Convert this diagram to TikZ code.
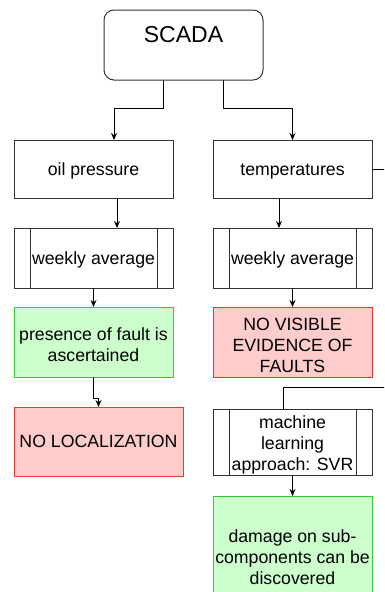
\documentclass[tikz,border=0pt]{standalone}
\usepackage{fontspec}
\setmainfont{Liberation Sans}
\usetikzlibrary{arrows.meta}
\definecolor{gfill}{HTML}{CCFFCC}
\definecolor{gline}{HTML}{33CC33}
\definecolor{rfill}{HTML}{FFCCCC}
\definecolor{rline}{HTML}{EE3333}
\definecolor{bline}{HTML}{333333}
\newcommand{\dstrut}{\rule[-3.75pt]{0pt}{19.75pt}}
\newcommand{\mstrut}{\rule{0pt}{18.5pt}}
\begin{document}
\begin{tikzpicture}[x=1pt,y=-1pt,
  every node/.style={font=\fontsize{17.7}{20.9}\selectfont, align=center, inner sep=0pt, outer sep=0pt},
  box/.style={draw=bline, line width=1pt, fill=white, minimum width=159pt, minimum height=58pt},
  procbox/.style={box, path picture={
     \draw[bline, line width=1pt] ([xshift=16pt]path picture bounding box.north west) -- ([xshift=16pt]path picture bounding box.south west);
     \draw[bline, line width=1pt] ([xshift=-16pt]path picture bounding box.north east) -- ([xshift=-16pt]path picture bounding box.south east);}},
  goodbox/.style={box, draw=gline, fill=gfill},
  badbox/.style={box, draw=rline, fill=rfill},
  conn/.style={draw=black, line width=1pt, -{Stealth[length=7pt,width=6pt]}},
  plain/.style={draw=black, line width=1pt}
]
\useasboundingbox (0,0) rectangle (384,592);
\clip (0,0) rectangle (384,592);

\node[draw=bline, line width=1pt, fill=white, rounded corners=10pt, minimum width=159pt, minimum height=70pt] (scada) at (183.5,45) {};
\node[font=\fontsize{23}{27}\selectfont] (scadat) at (183.5,35) {SCADA};

\node[box] (oil) at (93.5,169) {\dstrut oil pressure};
\node[box] (temp) at (292.5,169) {\dstrut temperatures};

\node[procbox, minimum height=60pt] (wk1) at (93.5,258) {\dstrut weekly average};
\node[procbox, minimum height=60pt] (wk2) at (292.5,258) {\dstrut weekly average};

\node[goodbox, minimum height=70pt] (fault) at (93.5,342) {\mstrut presence of fault is\\ascertained};
\node[badbox, minimum height=70pt] (novis) at (292.5,342) {\mstrut NO VISIBLE\\EVIDENCE OF\\FAULTS};

\node[badbox, minimum width=169pt, minimum height=69pt] (noloc) at (98.5,441.5) {\dstrut NO LOCALIZATION};
\node[procbox, minimum height=66pt] (svr) at (292.5,442) {\mstrut machine\\learning\\approach: SVR};

\node[goodbox, minimum height=116pt] (damage) at (292.5,554) {\mstrut damage on sub-\\components can be\\discovered};

\coordinate (offA) at (392,169);
\coordinate (offB) at (392,387);

\draw[conn] ([xshift=-20.5pt]scada.south) -- ++(0,28) -| ([xshift=20.5pt]oil.north);
\draw[conn] ([xshift=39.5pt]scada.south) -- ++(0,28) -| (temp.north);
\draw[conn] ([xshift=23.5pt]oil.south) -- ([xshift=23.5pt]wk1.north);
\draw[conn] ([xshift=-13.5pt]temp.south) -- ([xshift=-13.5pt]wk2.north);
\draw[conn, line width=1.5pt] (wk1.south) -- (fault.north);
\draw[conn] (wk2.south) -- (novis.north);
\draw[conn] (fault.south) -- ++(0,21) -| (noloc.north);
\draw[plain] (temp.east) -- (offA) -- (offB) -| ([xshift=-9.5pt]svr.north);
\draw[conn] (svr.south) -- (damage.north);
\end{tikzpicture}
\end{document}
